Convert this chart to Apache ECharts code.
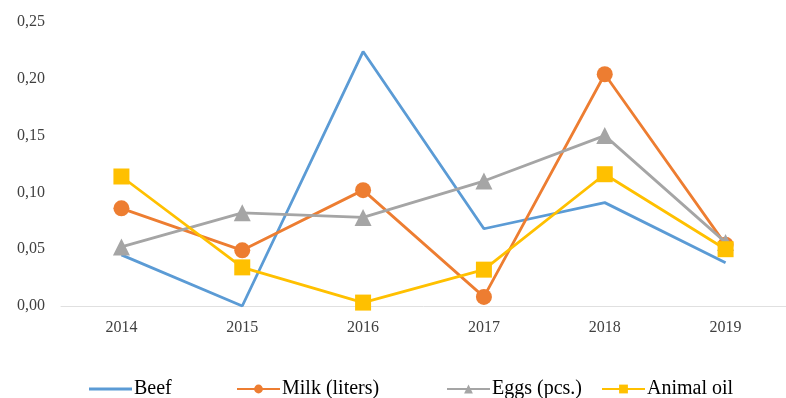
<!DOCTYPE html>
<html>
<head>
<meta charset="utf-8">
<script src="https://cdn.jsdelivr.net/npm/echarts@6/dist/echarts.min.js"></script>
<style>
  html, body { margin: 0; padding: 0; background: #fff; }
  #chart { width: 786px; height: 398px; }
</style>
</head>
<body>
<div id="chart"></div>
<script>
// Year-on-year values per product
const years = ['2014', '2015', '2016', '2017', '2018', '2019'];
const beef = [0.045, 0.000, 0.224, 0.068, 0.091, 0.038];
const milk = [0.086, 0.049, 0.102, 0.008, 0.204, 0.054];
const eggs = [0.052, 0.082, 0.078, 0.110, 0.150, 0.056];
const animalOil = [0.114, 0.034, 0.003, 0.032, 0.116, 0.050];
const yTicks = [0, 0.05, 0.10, 0.15, 0.20, 0.25];

const names = ['Beef', 'Milk (liters)', 'Eggs (pcs.)', 'Animal oil'];
const colors = ['#5B9BD5', '#ED7D31', '#A5A5A5', '#FFC000'];
const symbols = ['none', 'circle', 'triangle', 'rect'];
const sizes = [0, 16, 17, 16];
const values = [beef, milk, eggs, animalOil];
const legendLeft = [84, 231, 441, 596];

const font = '"Liberation Serif", "Times New Roman", serif';

const chart = echarts.init(document.getElementById('chart'));
chart.setOption({
  animation: false,
  color: colors,
  grid: { left: 61, right: -8, top: 22, bottom: 92 },
  legend: names.map((n, i) => ({
    data: [i === 0 ? { name: n, icon: 'rect' } : n],
    left: legendLeft[i],
    top: 374,
    itemWidth: 43,
    itemHeight: i === 0 ? 3 : 11,
    itemGap: 4,
    textStyle: {
      fontFamily: font, fontSize: 20, color: '#000',
      padding: [0, 0, 0, -3], lineHeight: 20
    }
  })),
  xAxis: {
    type: 'category',
    data: years,
    boundaryGap: true,
    axisLine: { lineStyle: { color: '#E0E0E0', width: 1 } },
    axisTick: { show: false },
    axisLabel: { fontFamily: font, fontSize: 16, color: '#404040', margin: 14 }
  },
  yAxis: {
    type: 'value',
    min: yTicks[0],
    max: yTicks[yTicks.length - 1],
    interval: 0.05,
    splitLine: { show: false },
    axisLine: { show: false },
    axisTick: { show: false },
    axisLabel: {
      fontFamily: font, fontSize: 16, color: '#404040', margin: 16,
      formatter: v => v.toFixed(2).replace('.', ',')
    }
  },
  series: values.map((d, i) => ({
    name: names[i],
    type: 'line',
    data: d,
    symbol: symbols[i],
    symbolSize: sizes[i],
    showSymbol: symbols[i] !== 'none',
    lineStyle: { width: 2.8, color: colors[i] },
    itemStyle: { color: colors[i] },
    z: 2 + i
  }))
});
</script>
</body>
</html>
